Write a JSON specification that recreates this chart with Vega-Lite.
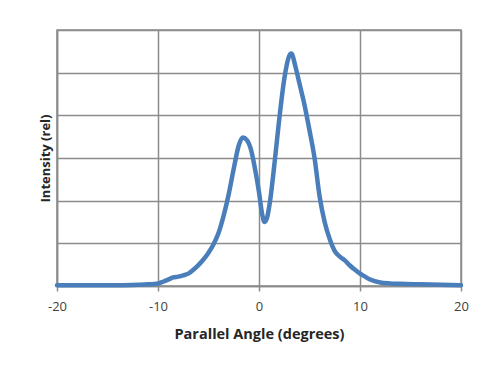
{
  "$schema": "https://vega.github.io/schema/vega-lite/v6.json",
  "width": 404,
  "height": 256,
  "autosize": {"type": "none"},
  "padding": {"left": 57, "top": 30, "right": 25, "bottom": 88},
  "background": "white",
  "config": {
    "font": "Open Sans",
    "view": {"stroke": "#8c8c8c", "strokeWidth": 1.5}
  },
  "data": {
    "values": [
      {"angle": -20, "intensity": 0.02},
      {"angle": -18, "intensity": 0.02},
      {"angle": -16, "intensity": 0.02},
      {"angle": -14, "intensity": 0.02},
      {"angle": -12, "intensity": 0.03},
      {"angle": -11, "intensity": 0.04},
      {"angle": -10, "intensity": 0.06},
      {"angle": -9.5, "intensity": 0.1},
      {"angle": -9, "intensity": 0.15},
      {"angle": -8.5, "intensity": 0.2},
      {"angle": -8, "intensity": 0.22},
      {"angle": -7.5, "intensity": 0.25},
      {"angle": -7, "intensity": 0.29},
      {"angle": -6.5, "intensity": 0.38},
      {"angle": -6, "intensity": 0.49},
      {"angle": -5.5, "intensity": 0.62},
      {"angle": -5, "intensity": 0.78},
      {"angle": -4.5, "intensity": 0.98},
      {"angle": -4, "intensity": 1.25},
      {"angle": -3.5, "intensity": 1.65},
      {"angle": -3, "intensity": 2.15},
      {"angle": -2.5, "intensity": 2.75},
      {"angle": -2, "intensity": 3.3},
      {"angle": -1.6, "intensity": 3.48},
      {"angle": -1.2, "intensity": 3.42},
      {"angle": -0.8, "intensity": 3.2},
      {"angle": -0.4, "intensity": 2.75},
      {"angle": 0, "intensity": 2.2},
      {"angle": 0.3, "intensity": 1.7},
      {"angle": 0.55, "intensity": 1.5},
      {"angle": 0.8, "intensity": 1.6},
      {"angle": 1.1, "intensity": 2.0},
      {"angle": 1.5, "intensity": 2.8},
      {"angle": 2, "intensity": 3.9},
      {"angle": 2.5, "intensity": 4.85},
      {"angle": 3, "intensity": 5.4},
      {"angle": 3.2, "intensity": 5.45},
      {"angle": 3.6, "intensity": 5.15},
      {"angle": 4, "intensity": 4.75},
      {"angle": 4.5, "intensity": 4.25},
      {"angle": 5, "intensity": 3.65},
      {"angle": 5.5, "intensity": 3.0},
      {"angle": 6, "intensity": 2.1},
      {"angle": 6.5, "intensity": 1.5},
      {"angle": 7, "intensity": 1.1},
      {"angle": 7.5, "intensity": 0.82},
      {"angle": 8, "intensity": 0.69},
      {"angle": 8.5, "intensity": 0.6},
      {"angle": 9, "intensity": 0.48},
      {"angle": 9.5, "intensity": 0.38},
      {"angle": 10, "intensity": 0.29},
      {"angle": 10.5, "intensity": 0.22},
      {"angle": 11, "intensity": 0.15},
      {"angle": 12, "intensity": 0.08},
      {"angle": 13, "intensity": 0.06},
      {"angle": 14, "intensity": 0.05},
      {"angle": 16, "intensity": 0.04},
      {"angle": 18, "intensity": 0.03},
      {"angle": 20, "intensity": 0.02}
    ]
  },
  "mark": {"type": "line", "interpolate": "monotone", "strokeWidth": 4.5, "color": "#4a7ebb", "strokeCap": "round", "strokeJoin": "round"},
  "encoding": {
    "x": {
      "field": "angle",
      "type": "quantitative",
      "scale": {"domain": [-20, 20], "nice": false, "zero": false},
      "axis": {
        "title": "Parallel Angle (degrees)",
        "values": [-20, -10, 0, 10, 20],
        "labelExpr": "'' + datum.value",
        "grid": true,
        "gridColor": "#8c8c8c",
        "gridWidth": 1.5,
        "gridOpacity": 1,
        "domainColor": "#8c8c8c",
        "domainWidth": 1.5,
        "tickColor": "#8c8c8c",
        "tickWidth": 1.5,
        "tickSize": 5,
        "labelFontSize": 13,
        "labelColor": "#404040",
        "labelPadding": 9,
        "labelFlush": false,
        "titleFontSize": 14.5,
        "titleFontWeight": "bold",
        "titleColor": "#262626",
        "titlePadding": 14
      }
    },
    "y": {
      "field": "intensity",
      "type": "quantitative",
      "scale": {"domain": [0, 6], "nice": false},
      "axis": {
        "title": "Intensity (rel)",
        "values": [0, 1, 2, 3, 4, 5, 6],
        "labels": false,
        "ticks": false,
        "grid": true,
        "gridColor": "#8c8c8c",
        "gridWidth": 1.5,
        "gridOpacity": 1,
        "domainColor": "#8c8c8c",
        "domainWidth": 1.5,
        "titleFontSize": 13,
        "titleFontWeight": "bold",
        "titleColor": "#262626",
        "titlePadding": 5
      }
    }
  }
}
